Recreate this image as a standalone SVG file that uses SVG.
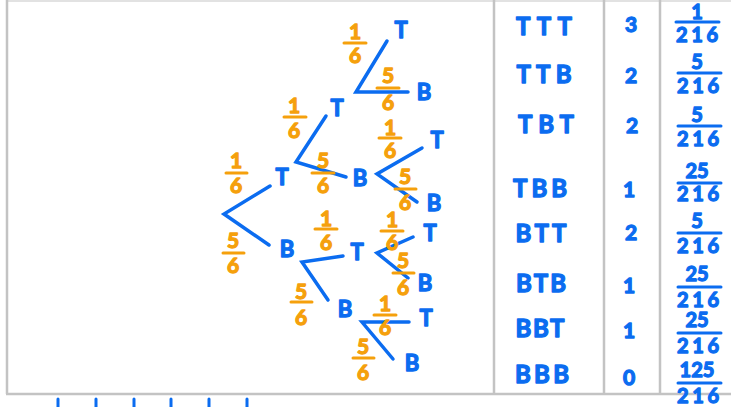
<svg xmlns="http://www.w3.org/2000/svg" width="731" height="407" viewBox="0 0 731 407">
<style>
.frame{stroke:#c3c3c3;stroke-width:2.5;fill:none}
.br{stroke:#0b6cf0;stroke-width:3.5;stroke-linecap:round;fill:none}
.fl{stroke:#f5a00c;stroke-width:3;stroke-linecap:round}
.tl{stroke:#0b6cf0;stroke-width:3;stroke-linecap:round}
.lab,.fr,.tb,.num,.tf{font-family:Lato,"Noto Sans",sans-serif;font-weight:700;text-anchor:middle;stroke-width:1.3;stroke-linejoin:round}
.lab{font-size:22px;fill:#0b6cf0;stroke:#0b6cf0}
.fr{font-size:21px;fill:#f5a00c;stroke:#f5a00c}
.tb{font-size:24px;fill:#0b6cf0;stroke:#0b6cf0}
.num{font-size:21px;fill:#0b6cf0;stroke:#0b6cf0}
.tf{font-size:20px;fill:#0b6cf0;stroke:#0b6cf0}
</style>
<rect width="731" height="407" fill="#ffffff"/>
<g id="frame">
<line x1="7" y1="1" x2="731" y2="1" stroke="#e2e2e2" stroke-width="2"/>
<line class="frame" x1="7" y1="0" x2="7" y2="394"/>
<line class="frame" x1="6" y1="394" x2="731" y2="394"/>
<line class="frame" x1="494" y1="0" x2="494" y2="394"/>
<line class="frame" x1="604" y1="0" x2="604" y2="394"/>
<line class="frame" x1="660" y1="0" x2="660" y2="394"/>
</g>
<g id="ticks">
<line class="tl" x1="58" y1="399" x2="58" y2="408"/>
<line class="tl" x1="96" y1="399" x2="96" y2="408"/>
<line class="tl" x1="134" y1="399" x2="134" y2="408"/>
<line class="tl" x1="171" y1="399" x2="171" y2="408"/>
<line class="tl" x1="209" y1="399" x2="209" y2="408"/>
<line class="tl" x1="247" y1="399" x2="247" y2="408"/>
</g>
<g id="connectors">
<polyline class="br" points="270,186 224,214 269,245"/>
<polyline class="br" points="326,116 296,162 346,177"/>
<polyline class="br" points="387,41 356,92 408,92"/>
<polyline class="br" points="422,148 377,174 417,202"/>
<polyline class="br" points="343,256 302,262 328,300"/>
<polyline class="br" points="413,237 377,253 408,278"/>
<polyline class="br" points="409,322 362,322 393,359"/>
</g>
<g id="probs">
<g id="p1"><text class="fr" x="236" y="168">1</text><line class="fl" x1="226" y1="173" x2="247" y2="173"/><text class="fr" x="236" y="193">6</text></g>
<g id="p2"><text class="fr" x="233" y="248">5</text><line class="fl" x1="223" y1="253" x2="244" y2="253"/><text class="fr" x="233" y="273">6</text></g>
<g id="p3"><text class="fr" x="294" y="113">1</text><line class="fl" x1="284" y1="117" x2="306" y2="117"/><text class="fr" x="294" y="138">6</text></g>
<g id="p4"><text class="fr" x="323" y="168">5</text><line class="fl" x1="312" y1="173" x2="334" y2="173"/><text class="fr" x="323" y="193">6</text></g>
<g id="p5"><text class="fr" x="355" y="39">1</text><line class="fl" x1="344" y1="43" x2="366" y2="43"/><text class="fr" x="355" y="63">6</text></g>
<g id="p6"><text class="fr" x="388" y="83">5</text><line class="fl" x1="377" y1="88" x2="399" y2="88"/><text class="fr" x="388" y="110">6</text></g>
<g id="p7"><text class="fr" x="390" y="135">1</text><line class="fl" x1="379" y1="138" x2="401" y2="138"/><text class="fr" x="390" y="158">6</text></g>
<g id="p8"><text class="fr" x="405" y="184">5</text><line class="fl" x1="395" y1="189" x2="416" y2="189"/><text class="fr" x="405" y="210">6</text></g>
<g id="p9"><text class="fr" x="326" y="226">1</text><line class="fl" x1="315" y1="229" x2="337" y2="229"/><text class="fr" x="326" y="250">6</text></g>
<g id="p10"><text class="fr" x="301" y="299">5</text><line class="fl" x1="291" y1="302" x2="312" y2="302"/><text class="fr" x="301" y="325">6</text></g>
<g id="p11"><text class="fr" x="392" y="227">1</text><line class="fl" x1="381" y1="231" x2="403" y2="231"/><text class="fr" x="392" y="250">6</text></g>
<g id="p12"><text class="fr" x="403" y="268">5</text><line class="fl" x1="393" y1="273" x2="414" y2="273"/><text class="fr" x="403" y="295">6</text></g>
<g id="p13"><text class="fr" x="385" y="311">1</text><line class="fl" x1="374" y1="315" x2="396" y2="315"/><text class="fr" x="385" y="335">6</text></g>
<g id="p14"><text class="fr" x="363" y="354">5</text><line class="fl" x1="353" y1="358" x2="374" y2="358"/><text class="fr" x="363" y="380">6</text></g>
</g>
<g id="nodes">
<text id="n-T" class="lab" x="282" y="185">T</text>
<text id="n-B" class="lab" x="287" y="257">B</text>
<text id="n-TT" class="lab" x="337" y="116">T</text>
<text id="n-TB" class="lab" x="360" y="186">B</text>
<text id="n-BT" class="lab" x="357" y="260">T</text>
<text id="n-BB" class="lab" x="345" y="317">B</text>
<text id="n-TTT" class="lab" x="401" y="38">T</text>
<text id="n-TTB" class="lab" x="424" y="100">B</text>
<text id="n-TBT" class="lab" x="437" y="148">T</text>
<text id="n-TBB" class="lab" x="434" y="211">B</text>
<text id="n-BTT" class="lab" x="430" y="241">T</text>
<text id="n-BTB" class="lab" x="425" y="291">B</text>
<text id="n-BBT" class="lab" x="426" y="326">T</text>
<text id="n-BBB" class="lab" x="412" y="371">B</text>
</g>
<g id="table">
<g id="col-outcome">
<text class="tb" x="544" y="35" textLength="56" lengthAdjust="spacing">TTT</text>
<text class="tb" x="544" y="83" textLength="55" lengthAdjust="spacing">TTB</text>
<text class="tb" x="546" y="133" textLength="56" lengthAdjust="spacing">TBT</text>
<text class="tb" x="540" y="197" textLength="54" lengthAdjust="spacing">TBB</text>
<text class="tb" x="541" y="242" textLength="51" lengthAdjust="spacing">BTT</text>
<text class="tb" x="541" y="292" textLength="50" lengthAdjust="spacing">BTB</text>
<text class="tb" x="540" y="337" textLength="49" lengthAdjust="spacing">BBT</text>
<text class="tb" x="542" y="383" textLength="54" lengthAdjust="spacing">BBB</text>
</g>
<g id="col-count">
<text class="num" x="631" y="32">3</text>
<text class="num" x="631" y="83">2</text>
<text class="num" x="632" y="133">2</text>
<text class="num" x="629" y="197">1</text>
<text class="num" x="631" y="240">2</text>
<text class="num" x="629" y="293">1</text>
<text class="num" x="629" y="338">1</text>
<text class="num" x="629" y="385">0</text>
</g>
<g id="col-prob">
<text class="tf" x="697" y="19">1</text><line class="tl" x1="676" y1="22" x2="719" y2="22"/><text class="tf" x="697" y="42" textLength="42" lengthAdjust="spacing">216</text>
<text class="tf" x="697" y="69">5</text><line class="tl" x1="678" y1="73" x2="721" y2="73"/><text class="tf" x="698" y="93" textLength="42" lengthAdjust="spacing">216</text>
<text class="tf" x="697" y="122">5</text><line class="tl" x1="678" y1="126" x2="721" y2="126"/><text class="tf" x="698" y="146" textLength="42" lengthAdjust="spacing">216</text>
<text class="tf" x="697" y="178">25</text><line class="tl" x1="678" y1="183" x2="721" y2="183"/><text class="tf" x="698" y="201" textLength="42" lengthAdjust="spacing">216</text>
<text class="tf" x="697" y="228">5</text><line class="tl" x1="678" y1="233" x2="721" y2="233"/><text class="tf" x="698" y="253" textLength="42" lengthAdjust="spacing">216</text>
<text class="tf" x="697" y="281">25</text><line class="tl" x1="678" y1="287" x2="721" y2="287"/><text class="tf" x="698" y="307" textLength="42" lengthAdjust="spacing">216</text>
<text class="tf" x="697" y="327">25</text><line class="tl" x1="678" y1="333" x2="721" y2="333"/><text class="tf" x="698" y="353" textLength="42" lengthAdjust="spacing">216</text>
<text class="tf" x="697" y="377">125</text><line class="tl" x1="678" y1="383" x2="721" y2="383"/><text class="tf" x="698" y="403" textLength="42" lengthAdjust="spacing">216</text>
</g>
</g>
</svg>
